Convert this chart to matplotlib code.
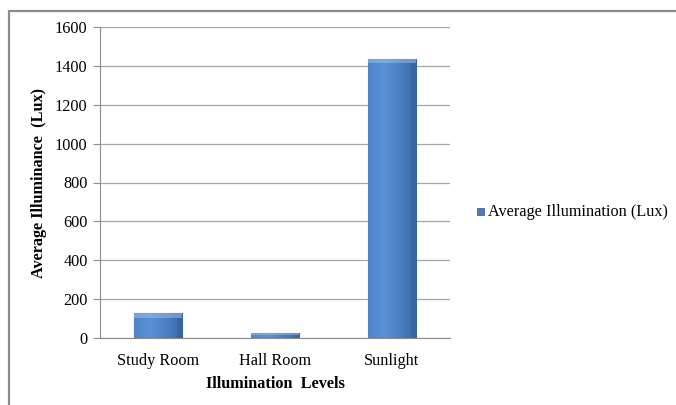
import numpy as np
import matplotlib.pyplot as plt
from matplotlib.patches import Rectangle
from matplotlib.colors import LinearSegmentedColormap

plt.rcParams['font.family'] = ['Liberation Serif', 'DejaVu Serif']

# Данные: средняя освещённость по местам измерения
places = ["Study Room", "Hall Room", "Sunlight"]
lux = [127, 25, 1435]
y_ticks = [0, 200, 400, 600, 800, 1000, 1200, 1400, 1600]

FS = 11.7
W, H = 676, 405
fig = plt.figure(figsize=(W / 100, H / 100), dpi=100)

# Серая рамка области диаграммы
fig.patches.append(Rectangle((8.5 / W, -0.1), 1.2, 1 - 11 / H + 0.1,
                             transform=fig.transFigure, fill=False,
                             edgecolor="#8c8c8c", linewidth=1.6))

ax = fig.add_axes([100 / W, 1 - 338 / H, (450 - 100) / W, (338 - 27) / H])

x = np.arange(len(places))
bars = ax.bar(x, lux, width=0.41, color="#4a7ebb", edgecolor="#3b659a",
              linewidth=0.8, zorder=3)

# Градиент по ширине столбца
grad = LinearSegmentedColormap.from_list(
    "blue", ["#4d84c8", "#5a92d6", "#4a80c2", "#3c6aa6"])
g = np.linspace(0, 1, 256).reshape(1, -1)
for b in bars:
    x0, w, h = b.get_x(), b.get_width(), b.get_height()
    im = ax.imshow(g, cmap=grad, extent=[x0, x0 + w, 0, h],
                   aspect="auto", zorder=3.5)
    im.set_clip_path(b)
    # светлая фаска сверху и тёмная кромка справа
    top = min(h * 0.3, 22)
    ax.add_patch(Rectangle((x0, h - top), w, top, color="#9cc0ec",
                           alpha=0.5, zorder=3.6, linewidth=0))
    ax.add_patch(Rectangle((x0 + w * 0.9, 0), w * 0.1, h - top,
                           color="#2f5890", alpha=0.35, zorder=3.6,
                           linewidth=0))

ax.set_xlim(-0.5, 2.5)
ax.set_ylim(0, 1600)
ax.set_yticks(y_ticks)
ax.set_xticks(x)
ax.set_xticklabels(places)
ax.tick_params(axis="y", length=5, color="#8c8c8c", labelsize=FS, pad=4)
ax.tick_params(axis="x", length=0, labelsize=FS, pad=11)
ax.grid(axis="y", color="#a6a6a6", linewidth=0.9, zorder=0)
for s in ["top", "right"]:
    ax.spines[s].set_visible(False)
ax.spines["left"].set_color("#8c8c8c")
ax.spines["bottom"].set_color("#8c8c8c")

ax.set_xlabel("Illumination  Levels", fontweight="bold", fontsize=FS,
              labelpad=5)
ax.set_ylabel("Average Illuminance  (Lux)", fontweight="bold", fontsize=FS,
              labelpad=6)

# Легенда справа
fig.patches.append(Rectangle((477 / W, 1 - 215 / H), 7 / W, 7 / H,
                             transform=fig.transFigure, facecolor="#4a7ebb",
                             edgecolor="#3b659a", linewidth=0.6))
fig.text(488 / W, 1 - 212 / H, "Average Illumination (Lux)", fontsize=FS,
         va="center", ha="left")

fig.savefig("out.png", dpi=100, facecolor="white")
